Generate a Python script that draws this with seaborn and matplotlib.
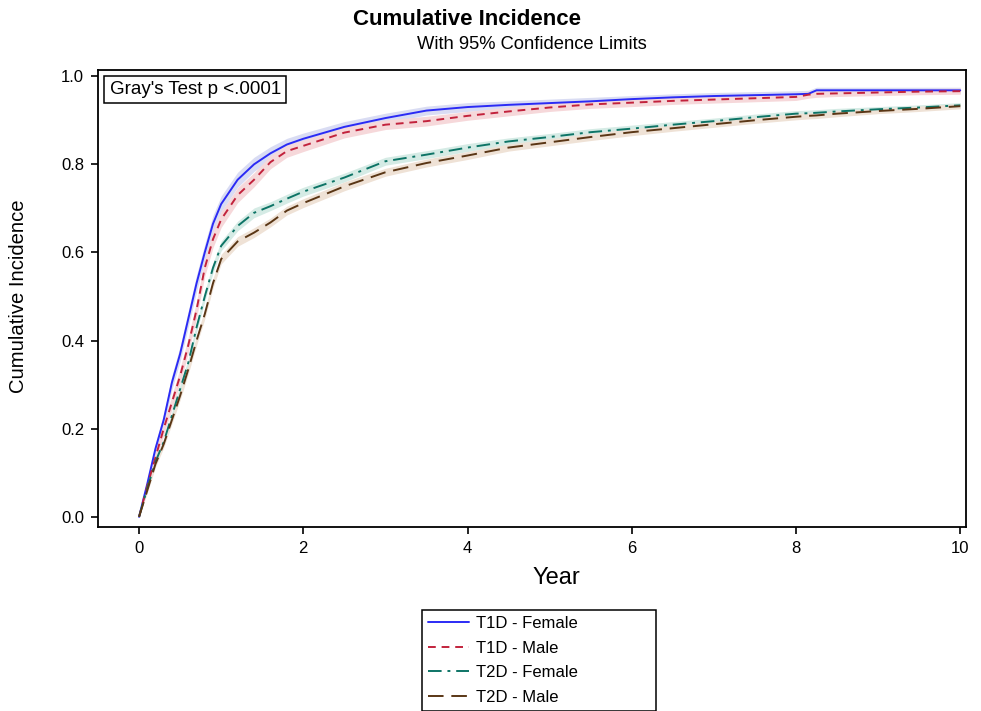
import matplotlib
matplotlib.use("Agg")
import matplotlib.pyplot as plt
import seaborn as sns
import pandas as pd

# follow-up time grid (years)
years = [0, 0.1, 0.2, 0.3, 0.4, 0.5, 0.6, 0.7, 0.8, 0.9, 1.0, 1.2, 1.4, 1.6, 1.8, 2.0,
         2.5, 3.0, 3.5, 4.0, 4.5, 5.0, 5.5, 6.0, 6.5, 7.0, 7.5, 8.0, 8.15, 8.25, 8.5,
         9.0, 9.5, 10.0]

t1d_female = [0, 0.075, 0.155, 0.22, 0.305, 0.37, 0.45, 0.53, 0.60, 0.665, 0.71, 0.765,
              0.80, 0.825, 0.845, 0.858, 0.885, 0.905, 0.922, 0.93, 0.935, 0.939, 0.943,
              0.948, 0.952, 0.955, 0.957, 0.959, 0.96, 0.968, 0.968, 0.968, 0.968, 0.968]
t1d_male = [0, 0.07, 0.135, 0.20, 0.26, 0.32, 0.39, 0.47, 0.565, 0.63, 0.675, 0.73,
            0.765, 0.805, 0.83, 0.842, 0.872, 0.89, 0.898, 0.91, 0.92, 0.929, 0.936,
            0.94, 0.944, 0.947, 0.95, 0.953, 0.958, 0.96, 0.961, 0.963, 0.965, 0.966]
t2d_female = [0, 0.065, 0.125, 0.17, 0.23, 0.29, 0.35, 0.43, 0.50, 0.565, 0.615, 0.66,
              0.69, 0.705, 0.722, 0.738, 0.77, 0.807, 0.822, 0.838, 0.852, 0.862, 0.873,
              0.881, 0.89, 0.898, 0.907, 0.915, 0.916, 0.917, 0.92, 0.925, 0.929, 0.934]
t2d_male = [0, 0.06, 0.12, 0.165, 0.22, 0.275, 0.335, 0.40, 0.46, 0.53, 0.585, 0.625,
            0.645, 0.668, 0.695, 0.712, 0.75, 0.782, 0.803, 0.82, 0.838, 0.85, 0.862,
            0.873, 0.882, 0.891, 0.9, 0.908, 0.91, 0.911, 0.915, 0.921, 0.926, 0.932]

# half-width of the 95% confidence band
t1d_female_ci = [0, 0.01, 0.012, 0.014, 0.016, 0.017, 0.018, 0.019, 0.019, 0.019, 0.018,
                 0.017, 0.016, 0.015, 0.014, 0.013, 0.012, 0.011, 0.01, 0.01, 0.009, 0.009,
                 0.009, 0.008, 0.008, 0.008, 0.008, 0.008, 0.008, 0.007, 0.007, 0.007,
                 0.007, 0.007]
t1d_male_ci = [0, 0.01, 0.012, 0.014, 0.016, 0.017, 0.018, 0.019, 0.019, 0.019, 0.018,
               0.017, 0.016, 0.015, 0.014, 0.013, 0.012, 0.011, 0.011, 0.01, 0.01, 0.009,
               0.009, 0.009, 0.008, 0.008, 0.008, 0.008, 0.008, 0.008, 0.007, 0.007,
               0.007, 0.007]
t2d_female_ci = [0, 0.006, 0.007, 0.008, 0.009, 0.01, 0.01, 0.011, 0.011, 0.011, 0.011,
                 0.011, 0.011, 0.01, 0.01, 0.01, 0.01, 0.009, 0.009, 0.009, 0.008, 0.008,
                 0.008, 0.008, 0.007, 0.007, 0.007, 0.007, 0.007, 0.007, 0.007, 0.006,
                 0.006, 0.006]
t2d_male_ci = [0, 0.006, 0.007, 0.008, 0.009, 0.01, 0.01, 0.011, 0.011, 0.011, 0.011,
               0.011, 0.011, 0.01, 0.01, 0.01, 0.01, 0.009, 0.009, 0.009, 0.008, 0.008,
               0.008, 0.008, 0.007, 0.007, 0.007, 0.007, 0.007, 0.007, 0.007, 0.006,
               0.006, 0.006]

groups = ["T1D - Female", "T1D - Male", "T2D - Female", "T2D - Male"]
series = [t1d_female, t1d_male, t2d_female, t2d_male]
bands = [t1d_female_ci, t1d_male_ci, t2d_female_ci, t2d_male_ci]

palette = {"T1D - Female": "#2b2bf5", "T1D - Male": "#c2223c",
           "T2D - Female": "#0d7466", "T2D - Male": "#5a3615"}
band_colors = {"T1D - Female": "#d9dcf3", "T1D - Male": "#f6d8da",
               "T2D - Female": "#d5ebe5", "T2D - Male": "#efe2d6"}
dashes = {"T1D - Female": "", "T1D - Male": (4, 3),
          "T2D - Female": (7, 3, 1.5, 3), "T2D - Male": (8, 4)}

df = pd.DataFrame({
    "Year": years * 4,
    "CIF": sum(series, []),
    "ci": sum(bands, []),
    "group": [g for g in groups for _ in years],
})
df["lower"] = df["CIF"] - df["ci"]
df["upper"] = df["CIF"] + df["ci"]

sns.set_style("ticks")
plt.rcParams["font.family"] = ["Liberation Sans", "DejaVu Sans"]
plt.rcParams["text.color"] = "black"
plt.rcParams["axes.labelcolor"] = "black"

fig = plt.figure(figsize=(9.81, 7.11), dpi=100)
ax = fig.add_axes([0.0999, 0.2588, 0.8848, 0.6427])

# confidence bands first, then the curves on top
for g in groups:
    d = df[df["group"] == g]
    ax.fill_between(d["Year"], d["lower"], d["upper"], color=band_colors[g], lw=0, zorder=1)

sns.lineplot(data=df, x="Year", y="CIF", hue="group", style="group", hue_order=groups,
             style_order=groups, palette=palette, dashes=dashes, estimator=None,
             sort=False, linewidth=1.4, ax=ax, legend=False, zorder=3)

ax.set_xlim(-0.5, 10.07)
ax.set_ylim(-0.023, 1.014)
ax.set_xticks([0, 2, 4, 6, 8, 10])
ax.set_yticks([0.0, 0.2, 0.4, 0.6, 0.8, 1.0])
ax.set_yticklabels(["0.0", "0.2", "0.4", "0.6", "0.8", "1.0"])
ax.tick_params(axis="both", labelsize=12, length=5, width=1.2, color="black",
               labelcolor="black", pad=5)
for sp in ax.spines.values():
    sp.set_visible(True)
    sp.set_linewidth(1.3)
    sp.set_color("black")

ax.set_xlabel("Year", fontsize=17)
ax.xaxis.set_label_coords(0.528, -0.088)
ax.set_ylabel("Cumulative Incidence", fontsize=14.6)
ax.yaxis.set_label_coords(-0.081, 0.504)

fig.text(0.476, 0.972, "Cumulative Incidence", ha="center", va="center",
         fontsize=16, fontweight="bold")
fig.text(0.542, 0.938, "With 95% Confidence Limits", ha="center", va="center",
         fontsize=13.2)

ax.text(0.0135, 0.976, "Gray's Test p <.0001", transform=ax.transAxes, ha="left",
        va="top", fontsize=13.5,
        bbox=dict(boxstyle="square,pad=0.28", facecolor="white", edgecolor="black", lw=1.1))

handles = []
for g in groups:
    if dashes[g]:
        handles.append(plt.Line2D([], [], color=palette[g], lw=1.4, dashes=dashes[g]))
    else:
        handles.append(plt.Line2D([], [], color=palette[g], lw=1.4, linestyle="-"))
leg = ax.legend(handles, groups, loc="upper left",
                bbox_to_anchor=(0.43, 0.0, 0.239, 0.142),
                bbox_transform=fig.transFigure, mode="expand", fontsize=12,
                frameon=True, fancybox=False, edgecolor="black", framealpha=1,
                handlelength=2.5, handletextpad=0.4, labelspacing=0.58,
                borderpad=0.35, borderaxespad=0)
leg.get_frame().set_linewidth(1.1)

fig.savefig("out.png", dpi=100)
